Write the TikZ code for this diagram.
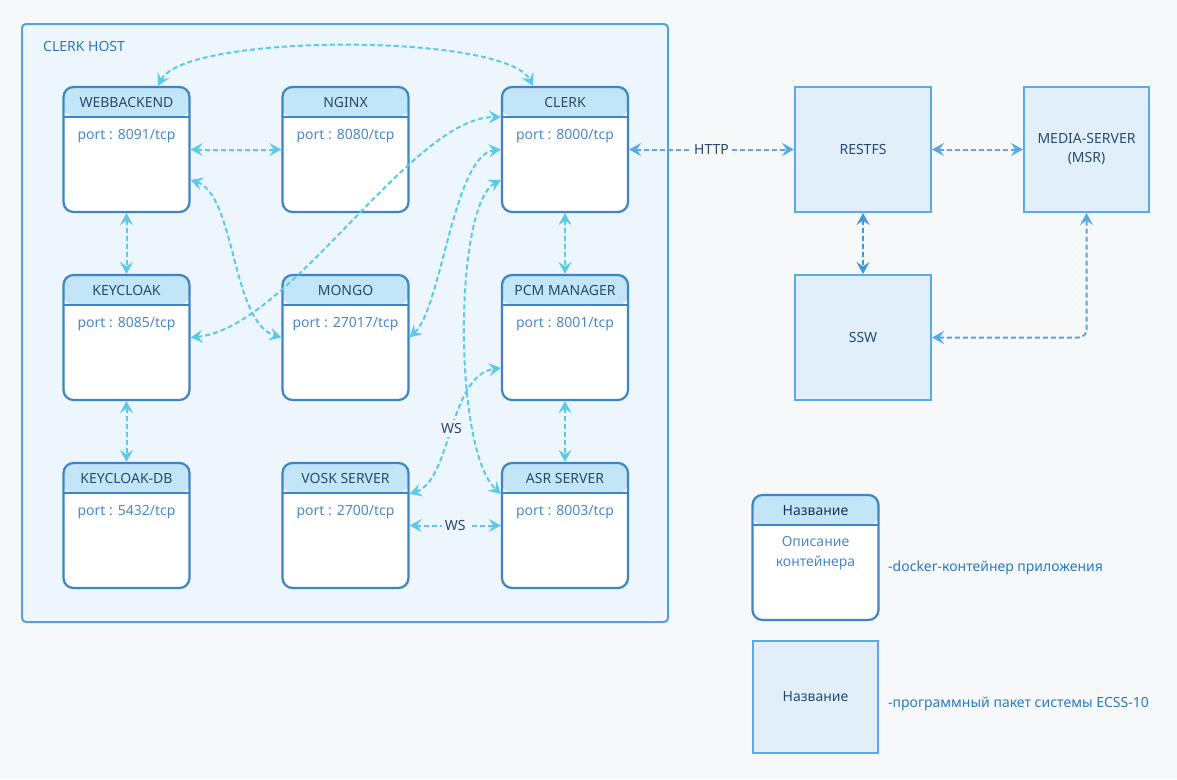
\documentclass[tikz,border=0pt]{standalone}
\usepackage{fontspec}
\setmainfont{Noto Sans}
\usetikzlibrary{arrows.meta}

\definecolor{bgc}{HTML}{F6F8FA}
\definecolor{hostfill}{HTML}{EDF5FD}
\definecolor{hostline}{HTML}{52A2E0}
\definecolor{hostlbl}{HTML}{2F78C0}
\definecolor{boxline}{HTML}{3D85C6}
\definecolor{hdrfill}{HTML}{C3E5F8}
\definecolor{titlec}{HTML}{2A4A6C}
\definecolor{portc}{HTML}{4A8AC8}
\definecolor{pkgfill}{HTML}{E1EFFB}
\definecolor{pkgline}{HTML}{5AAAE8}
\definecolor{linkc}{HTML}{5BCAE8}
\definecolor{linkb}{HTML}{55A8EC}
\definecolor{linkd}{HTML}{3E97E0}
\definecolor{legc}{HTML}{2A7ABF}
\definecolor{navy}{HTML}{1B3458}

\newcommand{\txt}{\fontsize{14}{19}\selectfont}

\tikzset{
  dbox/.style={draw=boxline, line width=2.2pt, fill=white, rounded corners=10pt,
    minimum width=126pt, minimum height=125pt, inner sep=0pt,
    path picture={
      \fill[hdrfill] (path picture bounding box.north west) rectangle
        ([yshift=-30pt]path picture bounding box.north east);
      \draw[boxline, line width=2.2pt] ([yshift=-30pt]path picture bounding box.north west) --
        ([yshift=-30pt]path picture bounding box.north east);
    }},
  dtitle/.style={text=titlec, font=\txt, inner sep=1pt},
  dport/.style={text=portc, font=\txt, inner sep=1pt, align=center},
  pkg/.style={draw=pkgline, line width=2pt, fill=pkgfill, minimum width=136pt,
    minimum height=125pt, text=titlec, font=\txt, align=center},
  link/.style={draw=linkc, line width=2pt, dash pattern=on 5pt off 3pt,
    {Stealth[length=12pt,width=13pt,inset=4.5pt]}-{Stealth[length=12pt,width=13pt,inset=4.5pt]}},
  lbl/.style={fill=hostfill, text=titlec, font=\txt, inner sep=3pt},
}

% container with header: name, x, y, title, port
\newcommand{\dock}[5]{%
  \node[dbox] (#1) at (#2,#3) {};
  \node[dtitle] (#1-t) at ([yshift=-17pt]#1.north) {#4};
  \node[dport] (#1-p) at ([yshift=-50pt]#1.north) {#5};
}

\begin{document}
\begin{tikzpicture}[x=1pt,y=1pt]
  \useasboundingbox[fill=bgc] (0,0) rectangle (1177,-779);

  % host
  \node[draw=hostline, fill=hostfill, line width=2pt, rounded corners=4pt,
    minimum width=646pt, minimum height=598pt, inner sep=0pt] (host) at (345,-323) {};
  \node[anchor=west, text=hostlbl, font=\txt, inner sep=0pt] (hostname) at (43,-46) {CLERK HOST};

  % containers
  \dock{web}{126.5}{-149.5}{WEBBACKEND}{port : 8091/tcp}
  \dock{nginx}{345.5}{-149.5}{NGINX}{port : 8080/tcp}
  \dock{clerk}{565}{-149.5}{CLERK}{port : 8000/tcp}
  \dock{kc}{126.5}{-337.5}{KEYCLOAK}{port : 8085/tcp}
  \dock{mongo}{345.5}{-337.5}{MONGO}{port : 27017/tcp}
  \dock{pcm}{565}{-337.5}{PCM MANAGER}{port : 8001/tcp}
  \dock{kcdb}{126.5}{-525.5}{KEYCLOAK-DB}{port : 5432/tcp}
  \dock{vosk}{345.5}{-525.5}{VOSK SERVER}{port : 2700/tcp}
  \dock{asr}{565}{-525.5}{ASR SERVER}{port : 8003/tcp}

  % ECSS-10 packages
  \node[pkg] (restfs) at (863,-149.5) {RESTFS};
  \node[pkg, minimum width=125pt] (msr) at (1086.5,-149.5) {MEDIA-SERVER\\(MSR)};
  \node[pkg] (ssw) at (863,-337.5) {SSW};

  % links inside host
  \draw[link] ([xshift=31.5pt]web.north) .. controls +(27,53) and +(-27,53) .. ([xshift=-32pt]clerk.north);
  \draw[link] (web.east) -- (nginx.west);
  \draw[link] ([yshift=-30.5pt]web.east) .. controls +(45,-15) and +(-50,15) .. (mongo.west);
  \draw[link] (kc.east) .. controls +(100,10) and +(-90,0) .. ([yshift=32.5pt]clerk.west);
  \draw[link] (mongo.east) .. controls +(32,30) and +(-47,-5) .. (clerk.west);
  \draw[link] ([yshift=-30.5pt]clerk.west) .. controls +(-47,-25) and +(-48,44) .. ([yshift=31.5pt]asr.west);
  \draw[link] ([yshift=31.5pt]vosk.east) .. controls +(42,14) and +(-52,-7) .. ([yshift=-30.5pt]pcm.west)
    node[lbl, pos=0.5] (ws1) {WS};
  \draw[link] (vosk.east) -- node[lbl] (ws2) {WS} (asr.west);
  \draw[link] (web.south) -- (kc.north);
  \draw[link] (kc.south) -- (kcdb.north);
  \draw[link] (clerk.south) -- (pcm.north);
  \draw[link] (pcm.south) -- (asr.north);

  % links outside
  \draw[link, draw=linkb] (clerk.east) -- node[lbl, fill=bgc] (http) {HTTP} (restfs.west);
  \draw[link, draw=linkb] (restfs.east) -- (msr.west);
  \draw[link, draw=linkd] (restfs.south) -- (ssw.north);
  \draw[link, draw=linkb, rounded corners=8pt] (ssw.east) -| (msr.south);

  % legend
  \node[dbox] (lgbox) at (815.5,-557.5) {};
  \node[dtitle, text=navy] (lgbox-t) at ([yshift=-17pt]lgbox.north) {Название};
  \node[dport, font=\fontsize{14}{20}\selectfont] (lgbox-p) at ([yshift=-59pt]lgbox.north) {Описание\\контейнера};
  \node[pkg, minimum width=125pt, minimum height=112pt] (lgpkg) at (815.5,-697) {Название};
  \node[anchor=west, text=legc, font=\txt, inner sep=0pt] (lgtxt1) at (888,-568) {-docker-контейнер приложения};
  \node[anchor=west, text=legc, font=\txt, inner sep=0pt] (lgtxt2) at (888,-704) {-программный пакет системы ECSS-10};
\end{tikzpicture}
\end{document}
